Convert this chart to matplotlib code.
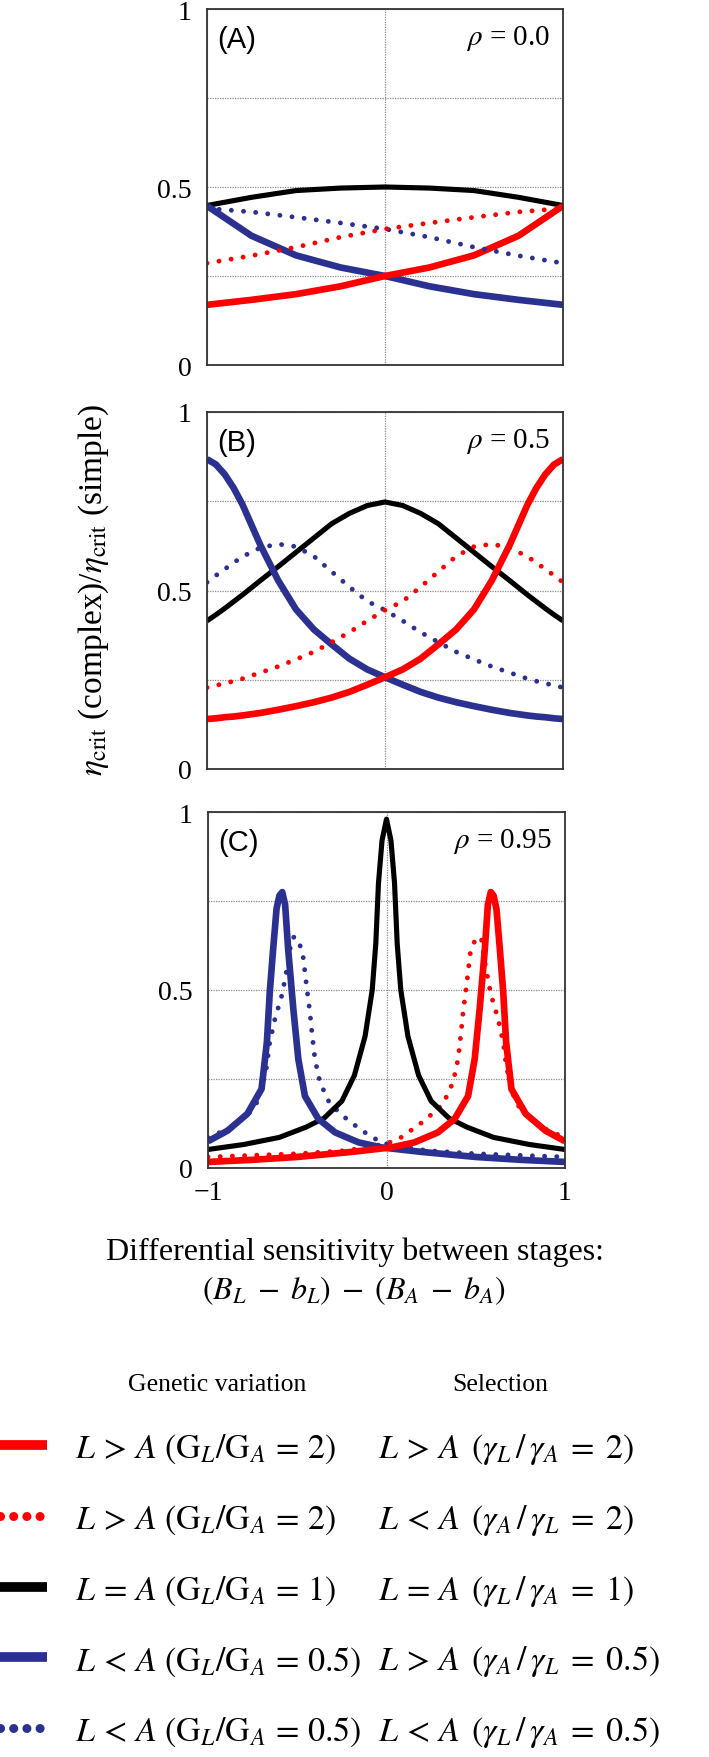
import numpy as np
import matplotlib
matplotlib.use("Agg")
import matplotlib.pyplot as plt
from matplotlib.lines import Line2D

plt.rcParams['font.family'] = ['Liberation Serif', 'DejaVu Serif']
plt.rcParams['mathtext.fontset'] = 'stix'

RED = '#FF0000'
BLUE = '#2B3190'
BLACK = '#000000'

# ---- panel A (rho = 0.0), common x grid
xa = [-1, -0.75, -0.5, -0.25, 0, 0.25, 0.5, 0.75, 1]
a_black = [0.448, 0.471, 0.490, 0.497, 0.500, 0.497, 0.490, 0.471, 0.448]
a_red = [0.169, 0.183, 0.199, 0.221, 0.250, 0.274, 0.308, 0.363, 0.447]
a_blue = [0.447, 0.363, 0.308, 0.274, 0.250, 0.221, 0.199, 0.183, 0.169]
a_red_dot = [0.286, 0.307, 0.331, 0.359, 0.382, 0.399, 0.415, 0.430, 0.440]
a_blue_dot = [0.440, 0.430, 0.415, 0.399, 0.382, 0.359, 0.331, 0.307, 0.286]

# ---- panel B (rho = 0.5)
xb = [-1, -0.95, -0.9, -0.85, -0.8, -0.7, -0.6, -0.5, -0.4, -0.3, -0.2, -0.1, 0,
      0.1, 0.2, 0.3, 0.4, 0.5, 0.6, 0.7, 0.8, 0.85, 0.9, 0.95, 1]
b_black = [0.415, 0.432, 0.450, 0.469, 0.488, 0.528, 0.567, 0.607, 0.647, 0.687, 0.716, 0.738, 0.748,
           0.738, 0.716, 0.687, 0.647, 0.607, 0.567, 0.528, 0.488, 0.469, 0.450, 0.432, 0.415]
b_blue = [0.868, 0.853, 0.825, 0.787, 0.740, 0.627, 0.528, 0.447, 0.391, 0.349, 0.309, 0.279, 0.257,
          0.236, 0.216, 0.200, 0.187, 0.176, 0.166, 0.157, 0.150, 0.147, 0.145, 0.142, 0.140]
b_red = b_blue[::-1]
b_blue_dot = [0.523, 0.542, 0.560, 0.578, 0.595, 0.620, 0.630, 0.623, 0.596, 0.553, 0.510, 0.470, 0.445,
              0.415, 0.383, 0.355, 0.328, 0.307, 0.287, 0.270, 0.253, 0.246, 0.240, 0.234, 0.228]
b_red_dot = b_blue_dot[::-1]

# ---- panel C (rho = 0.95), each curve has its own x samples
xc_black = [-1, -0.8, -0.6, -0.45, -0.35, -0.25, -0.18, -0.12, -0.08, -0.06, -0.045, -0.025, 0,
            0.025, 0.045, 0.06, 0.08, 0.12, 0.18, 0.25, 0.35, 0.45, 0.6, 0.8, 1]
c_black = [0.052, 0.066, 0.086, 0.115, 0.140, 0.188, 0.260, 0.370, 0.500, 0.630, 0.800, 0.920, 0.980,
           0.920, 0.800, 0.630, 0.500, 0.370, 0.260, 0.188, 0.140, 0.115, 0.086, 0.066, 0.052]
xc_blue = [-1, -0.89, -0.78, -0.70, -0.67, -0.654, -0.635, -0.616, -0.600, -0.584, -0.568,
           -0.551, -0.522, -0.494, -0.457, -0.382, -0.288, -0.157, -0.03, 0.2, 0.5, 0.75, 1]
c_blue = [0.075, 0.105, 0.152, 0.222, 0.354, 0.494, 0.615, 0.728, 0.765, 0.775, 0.740,
          0.615, 0.447, 0.306, 0.202, 0.138, 0.100, 0.072, 0.058, 0.045, 0.031, 0.023, 0.017]
xc_blue_dot = [-1, -0.87, -0.766, -0.719, -0.672, -0.654, -0.625, -0.584, -0.551, -0.532, -0.515,
               -0.498, -0.470, -0.448, -0.429, -0.416, -0.401, -0.373, -0.317, -0.213, -0.082,
               0, 0.225, 0.5, 1]
c_blue_dot = [0.085, 0.114, 0.156, 0.189, 0.283, 0.353, 0.419, 0.489, 0.578, 0.643, 0.650,
              0.643, 0.606, 0.512, 0.437, 0.372, 0.306, 0.241, 0.180, 0.133, 0.086,
              0.068, 0.049, 0.040, 0.031]
# red curves are the mirror images of the blue ones
xc_red = [-v for v in xc_blue[::-1]]
c_red = c_blue[::-1]
xc_red_dot = [-v for v in xc_blue_dot[::-1]]
c_red_dot = c_blue_dot[::-1]

panels = [
    ('(A)', r'$\rho$ = 0.0',
     [(xa, a_black, BLACK, '-'), (xa, a_blue, BLUE, '-'), (xa, a_red, RED, '-'),
      (xa, a_blue_dot, BLUE, ':'), (xa, a_red_dot, RED, ':')]),
    ('(B)', r'$\rho$ = 0.5',
     [(xb, b_black, BLACK, '-'), (xb, b_blue, BLUE, '-'), (xb, b_red, RED, '-'),
      (xb, b_blue_dot, BLUE, ':'), (xb, b_red_dot, RED, ':')]),
    ('(C)', r'$\rho$ = 0.95',
     [(xc_blue_dot, c_blue_dot, BLUE, ':'), (xc_red_dot, c_red_dot, RED, ':'),
      (xc_black, c_black, BLACK, '-'), (xc_blue, c_blue, BLUE, '-'), (xc_red, c_red, RED, '-')]),
]

W, H = 709, 1758
fig = plt.figure(figsize=(W / 100, H / 100), dpi=100)

# axes boxes in pixels: left, top, right, bottom
boxes = [(207, 10, 563, 366), (207, 413, 563, 770), (208, 813, 565, 1169)]

TICK_FS = 20
dot_style = (0, (0.01, 2.5))

for i, ((lab, rho, curves), (l, t, r, b)) in enumerate(zip(panels, boxes)):
    ax = fig.add_axes([l / W, 1 - b / H, (r - l) / W, (b - t) / H])
    for x, y, c, ls in curves:
        if ls == '-':
            ax.plot(x, y, color=c, lw=3.7 if c == BLACK else 4.8,
                    solid_capstyle='butt', solid_joinstyle='round')
        else:
            ax.plot(x, y, color=c, lw=3.5, linestyle=dot_style, dash_capstyle='round')
    ax.set_xlim(-1, 1)
    ax.set_ylim(0, 1)
    ax.set_yticks([0, 0.5, 1])
    ax.set_yticklabels(['0', '0.5', '1'])
    ax.set_yticks([0.25, 0.75], minor=True)
    ax.set_xticks([-1, 0, 1])
    if i == 2:
        ax.set_xticklabels(['\u22121', '0', '1'])
    else:
        ax.set_xticklabels([])
    ax.tick_params(which='both', length=0, labelsize=TICK_FS)
    ax.tick_params(axis='y', pad=11)
    ax.tick_params(axis='x', pad=9)
    ax.grid(True, which='both', color='#8a8a8a', linestyle=(0, (1, 1)), lw=0.9)
    ax.set_axisbelow(True)
    for s in ax.spines.values():
        s.set_color('#333333')
        s.set_linewidth(1.3)
    ax.text(0.03, 0.915, lab, transform=ax.transAxes, ha='left', va='center',
            fontsize=21, family=['Liberation Sans', 'DejaVu Sans'])
    ax.text(0.963, 0.92, rho, transform=ax.transAxes, ha='right', va='center', fontsize=21)

# y label
fig.text(94 / W, 1 - 590 / H, r'$\eta_{\mathrm{crit}}$ (complex)/$\eta_{\mathrm{crit}}$ (simple)',
         rotation=90, ha='center', va='center', fontsize=24)

# x label (two lines, centred on the figure)
fig.text(0.5, 1 - 1252 / H, 'Differential sensitivity between stages:',
         ha='center', va='center', fontsize=23)
fig.text(0.5, 1 - 1291 / H, r'$(B_L\;-\;b_L)\;-\;(B_A\;-\;b_A)$',
         ha='center', va='center', fontsize=23)

# legend
gen_labels = [r'$L\,>\,A\ (\mathrm{G}_L/\mathrm{G}_A\,=\,2)$',
              r'$L\,>\,A\ (\mathrm{G}_L/\mathrm{G}_A\,=\,2)$',
              r'$L\,=\,A\ (\mathrm{G}_L/\mathrm{G}_A\,=\,1)$',
              r'$L\,<\,A\ (\mathrm{G}_L/\mathrm{G}_A\,=\,0.5)$',
              r'$L\,<\,A\ (\mathrm{G}_L/\mathrm{G}_A\,=\,0.5)$']
sel_labels = [r'$L\,>\,A\ \,(\gamma_L\,/\,\gamma_A\;=\;2)$',
              r'$L\,<\,A\ \,(\gamma_A\,/\,\gamma_L\;=\;2)$',
              r'$L\,=\,A\ \,(\gamma_L\,/\,\gamma_A\;=\;1)$',
              r'$L\,>\,A\ \,(\gamma_A\,/\,\gamma_L\;=\;0.5)$',
              r'$L\,<\,A\ \,(\gamma_L\,/\,\gamma_A\;=\;0.5)$']
leg_colors = [RED, RED, BLACK, BLUE, BLUE]
leg_styles = ['-', ':', '-', '-', ':']

handles = []
for c, ls in zip(leg_colors, leg_styles):
    if ls == '-':
        handles.append(Line2D([], [], color=c, lw=7, solid_capstyle='butt'))
    else:
        handles.append(Line2D([], [], color=c, lw=6.5, linestyle=(0, (0.01, 1.45)),
                              dash_capstyle='round'))

LEG_FS = 24.5
leg = fig.legend(handles, gen_labels, loc='upper left', bbox_to_anchor=(0.0, 1 - 1433 / H),
                 frameon=False, fontsize=LEG_FS, handlelength=1.38, handletextpad=0.82,
                 labelspacing=1.1, borderpad=0, borderaxespad=0)

fig.text(217 / W, 1 - 1385 / H, 'Genetic variation', ha='center', va='center', fontsize=18.5)
fig.text(500 / W, 1 - 1385 / H, 'Selection', ha='center', va='center', fontsize=18.5)

fig.canvas.draw()
inv = fig.transFigure.inverted()
for t, s in zip(leg.get_texts(), sel_labels):
    bb = t.get_window_extent()
    yc = inv.transform((0, (bb.y0 + bb.y1) / 2))[1]
    fig.text(378 / W, yc, s, ha='left', va='center', fontsize=LEG_FS)

fig.savefig('out.png', dpi=100)
